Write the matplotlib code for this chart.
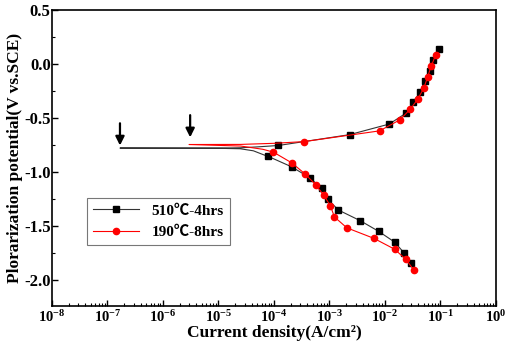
import matplotlib
matplotlib.use("Agg")
import matplotlib.pyplot as plt
import numpy as np

plt.rcParams['font.family'] = ['Liberation Serif', 'Noto Sans CJK SC']
plt.rcParams['font.weight'] = 'bold'
plt.rcParams['mathtext.fontset'] = 'custom'
plt.rcParams['mathtext.rm'] = 'Liberation Serif:bold'
plt.rcParams['mathtext.it'] = 'Liberation Serif:bold'
plt.rcParams['mathtext.bf'] = 'Liberation Serif:bold'

# 510C-4hrs: log10(current density), potential (V), marker flag
black_logi = [-1.52, -1.66, -1.82, -2.11, -2.44, -2.84, -3.03, -3.14, -3.35, -3.676, -4.10,
              -4.19, -4.37, -4.61, -5.0, -6.775, -5.0, -4.6, -4.3,
              -3.92, -2.636, -1.92, -1.627, -1.495, -1.364, -1.285, -1.195, -1.135, -1.02]
black_E = [-1.844, -1.743, -1.648, -1.548, -1.45, -1.35, -1.249, -1.151, -1.054, -0.953, -0.856,
           -0.84, -0.804, -0.785, -0.781, -0.779, -0.779, -0.776, -0.768,
           -0.755, -0.655, -0.557, -0.459, -0.358, -0.26, -0.16, -0.063, 0.035, 0.139]
black_mark = [1] * 11 + [0] * 8 + [1] * 10

# 190C-8hrs
red_logi = [-1.477, -1.62, -1.825, -2.198, -2.685, -2.91, -2.98, -3.10, -3.25, -3.447, -3.676, -4.01,
            -4.2, -4.6, -5.53, -4.6, -4.0,
            -3.454, -2.095, -1.735, -1.544, -1.405, -1.297, -1.23, -1.165, -1.086]
red_E = [-1.904, -1.807, -1.712, -1.612, -1.515, -1.414, -1.313, -1.215, -1.115, -1.014, -0.916, -0.816,
         -0.79, -0.76, -0.746, -0.745, -0.735,
         -0.719, -0.62, -0.52, -0.422, -0.325, -0.225, -0.124, -0.023, 0.077]
red_mark = [1] * 12 + [0] * 5 + [1] * 9

# arrows: (log10 i, E start, E end)
arrow_logi = [-6.775, -5.51]
arrow_top = [-0.55, -0.475]
arrow_bot = [-0.755, -0.68]

fig = plt.figure(figsize=(5.08, 3.47), dpi=100)
ax = fig.add_axes([0.1024, 0.117, 0.8736, 0.8556])

ax.plot(10 ** np.array(black_logi), black_E, color='#333333', lw=0.8,
        marker='s', ms=4, mfc='black', mec='black',
        markevery=[bool(m) for m in black_mark], label='510\u2103-4hrs')
ax.plot(10 ** np.array(red_logi), red_E, color='red', lw=0.8,
        marker='o', ms=4.5, mfc='red', mec='red',
        markevery=[bool(m) for m in red_mark], label='190\u2103-8hrs')

for x, y0, y1 in zip(arrow_logi, arrow_top, arrow_bot):
    ax.annotate('', xy=(10 ** x, y1), xytext=(10 ** x, y0),
                arrowprops=dict(arrowstyle='-|>', color='black', lw=1.6,
                                mutation_scale=13, shrinkA=0, shrinkB=0))

ax.set_xscale('log')
ax.set_xlim(1e-8, 1e0)
ax.set_ylim(-2.24, 0.5)
ax.set_xticks([10.0 ** k for k in range(-8, 1)])
ax.set_yticks([0.5, 0.0, -0.5, -1.0, -1.5, -2.0])
ax.set_yticklabels(['0.5', '0.0', '-0.5', '-1.0', '-1.5', '-2.0'])
ax.set_yticks(np.arange(-2.0, 0.5, 0.25), minor=True)
ax.xaxis.set_minor_locator(matplotlib.ticker.LogLocator(base=10, subs=np.arange(2, 10), numticks=20))
ax.xaxis.set_minor_formatter(matplotlib.ticker.NullFormatter())
ax.tick_params(which='both', direction='in', top=False, right=False)
ax.tick_params(axis='y', labelsize=12, pad=1)
ax.tick_params(axis='x', labelsize=10.5, pad=2)
ax.tick_params(which='major', length=4, width=1)
ax.tick_params(which='minor', length=2.5, width=0.8)
for s in ax.spines.values():
    s.set_linewidth(1.2)

ax.set_xlabel('Current density(A/cm\u00b2)', fontsize=12.5, fontweight='bold')
ax.xaxis.set_label_coords(0.5, -0.062)
ax.set_ylabel('Plorarization potential(V vs.SCE)', fontsize=12.5, fontweight='bold')
ax.yaxis.set_label_coords(-0.066, 0.5)

leg = ax.legend(loc='upper left', bbox_to_anchor=(0.079, 0.366), borderaxespad=0,
                fontsize=11, frameon=True, fancybox=False, edgecolor='#555555',
                handlelength=3, borderpad=0.4, labelspacing=0.5)
leg.get_frame().set_linewidth(0.8)

fig.savefig('out.png', dpi=100)
